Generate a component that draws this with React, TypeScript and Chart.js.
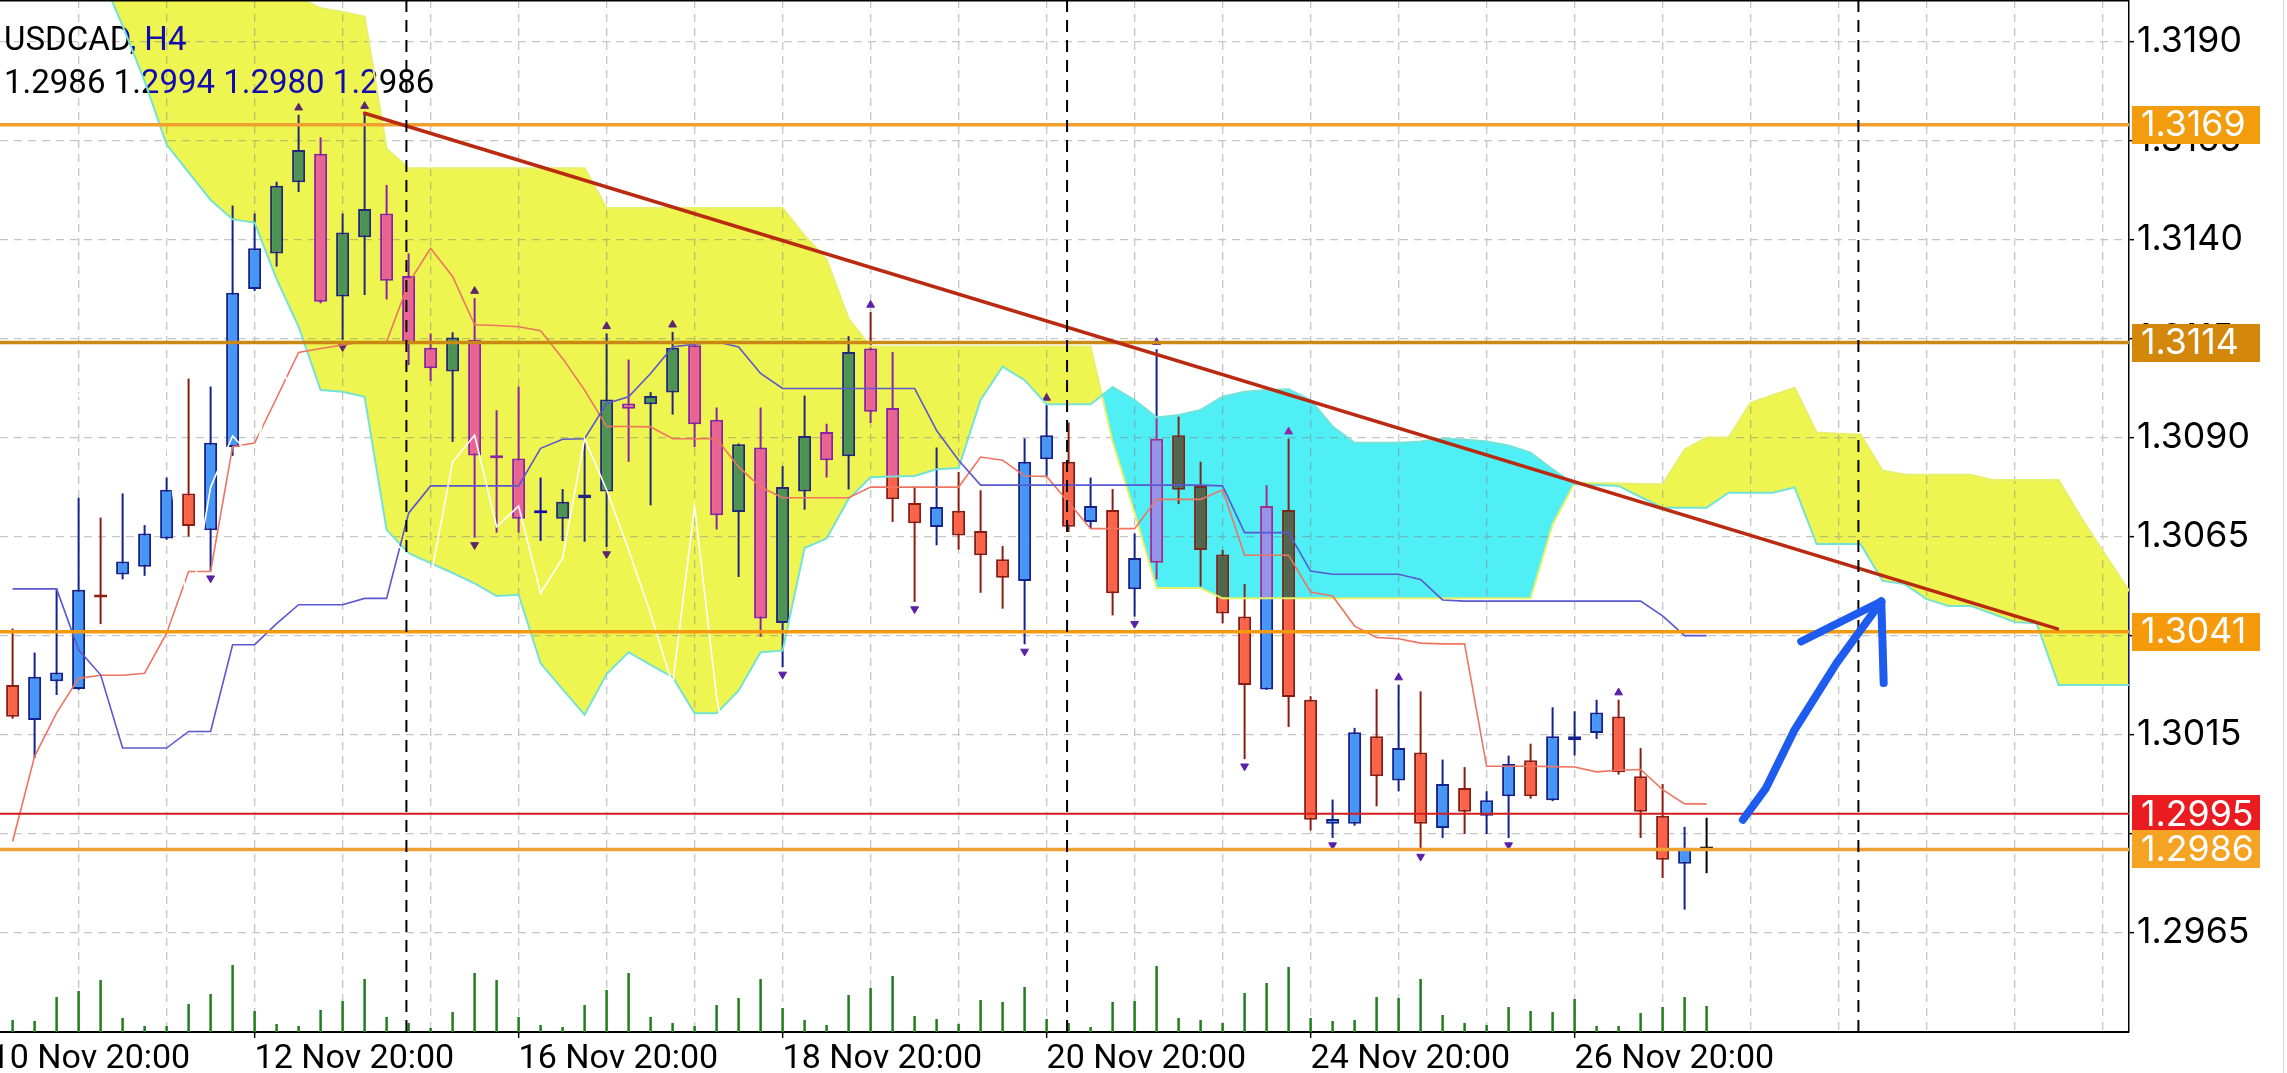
import React, { useEffect, useRef } from 'react';
import { Chart, registerables } from 'chart.js';

// ---------------- data ----------------
const SYMBOL_TITLE = 'USDCAD, H4';

const opens = [
  1.30275, 1.30187, 1.30285, 1.30265, 1.30504, 1.30554, 1.30574, 1.30645, 1.30759, 1.30666,
  1.30876, 1.31275, 1.31365, 1.31545, 1.31617, 1.31256, 1.31406, 1.31466, 1.31308, 1.31127,
  1.31067, 1.31147, 1.30855, 1.30847, 1.30709, 1.30695, 1.30747, 1.30764, 1.30986, 1.30984,
  1.31014, 1.31133, 1.30945, 1.30712, 1.30875, 1.30432, 1.30764, 1.30914, 1.30853, 1.31125,
  1.30975, 1.30735, 1.30674, 1.30715, 1.30664, 1.30593, 1.30538, 1.30845, 1.30839, 1.30687,
  1.30717, 1.30517, 1.30584, 1.30906, 1.30778, 1.30605, 1.30448, 1.30264, 1.30717, 1.30238,
  1.29925, 1.29925, 1.30146, 1.30034, 1.30105, 1.29914, 1.30015, 1.29945, 1.29994, 1.30085,
  1.29984, 1.30136, 1.30154, 1.30196, 1.30045, 1.29945, 1.29824, 1.29860,
];
const highs = [
  1.30418, 1.30357, 1.30517, 1.30748, 1.30698, 1.30759, 1.30679, 1.30799, 1.31049, 1.31029,
  1.31486, 1.31466, 1.31546, 1.31715, 1.31658, 1.31466, 1.31719, 1.31538, 1.31365, 1.31163,
  1.31166, 1.31252, 1.30969, 1.31029, 1.30799, 1.30770, 1.30900, 1.31163, 1.31097, 1.31015,
  1.31167, 1.31137, 1.30976, 1.30885, 1.30976, 1.30828, 1.31006, 1.30935, 1.31156, 1.31217,
  1.31116, 1.30777, 1.30875, 1.30813, 1.30767, 1.30626, 1.30898, 1.30982, 1.30938, 1.30799,
  1.30770, 1.30658, 1.31123, 1.30953, 1.30839, 1.30616, 1.30530, 1.30780, 1.30897, 1.30247,
  1.29986, 1.30167, 1.30265, 1.30276, 1.30259, 1.30087, 1.30068, 1.30007, 1.30097, 1.30127,
  1.30219, 1.30209, 1.30238, 1.30238, 1.30116, 1.30025, 1.29917, 1.29940,
];
const lows = [
  1.30190, 1.30091, 1.30250, 1.30263, 1.30429, 1.30542, 1.30551, 1.30642, 1.30650, 1.30563,
  1.30854, 1.31270, 1.31332, 1.31520, 1.31239, 1.31147, 1.31260, 1.31249, 1.31083, 1.31043,
  1.30889, 1.30647, 1.30660, 1.30660, 1.30639, 1.30639, 1.30637, 1.30624, 1.30839, 1.30729,
  1.30958, 1.30876, 1.30668, 1.30548, 1.30397, 1.30320, 1.30718, 1.30799, 1.30769, 1.30937,
  1.30687, 1.30485, 1.30628, 1.30617, 1.30508, 1.30468, 1.30378, 1.30803, 1.30662, 1.30670,
  1.30451, 1.30448, 1.30542, 1.30732, 1.30524, 1.30431, 1.30088, 1.30263, 1.30169, 1.29908,
  1.29889, 1.29920, 1.29969, 1.30007, 1.29860, 1.29889, 1.29899, 1.29899, 1.29889, 1.29988,
  1.29982, 1.30097, 1.30139, 1.30049, 1.29889, 1.29788, 1.29708, 1.29800,
];
const closes = [
  1.30195, 1.30296, 1.30307, 1.30516, 1.30496, 1.30587, 1.30658, 1.30768, 1.30677, 1.30887,
  1.31266, 1.31378, 1.31536, 1.31626, 1.31243, 1.31418, 1.31477, 1.31296, 1.31140, 1.31075,
  1.31153, 1.30855, 1.30848, 1.30695, 1.30709, 1.30738, 1.30756, 1.30996, 1.30973, 1.31005,
  1.31127, 1.30934, 1.30704, 1.30883, 1.30443, 1.30775, 1.30904, 1.30843, 1.31116, 1.30965,
  1.30744, 1.30684, 1.30725, 1.30653, 1.30603, 1.30546, 1.30839, 1.30906, 1.30675, 1.30727,
  1.30507, 1.30596, 1.30897, 1.30768, 1.30616, 1.30456, 1.30275, 1.30727, 1.30245, 1.29935,
  1.29937, 1.30156, 1.30045, 1.30116, 1.29925, 1.30025, 1.29955, 1.29984, 1.30076, 1.29994,
  1.30146, 1.30146, 1.30206, 1.30055, 1.29955, 1.29834, 1.29864, 1.29860,
];
const tickVolumes = [
  480, 440, 1400, 1640, 2080, 560, 240, 240, 1120, 1520,
  2680, 840, 320, 240, 880, 1240, 2120, 600, 360, 160,
  800, 2360, 2080, 600, 280, 200, 1080, 1680, 2360, 600,
  360, 240, 1080, 1360, 2120, 960, 480, 280, 1480, 1760,
  2240, 640, 520, 320, 1280, 1200, 1800, 520, 360, 200,
  1200, 1240, 2640, 560, 480, 360, 1560, 1960, 2600, 560,
  440, 480, 1400, 1360, 2120, 680, 360, 280, 1000, 840,
  800, 1320, 240, 240, 760, 1000, 1400, 1040,
];
const tenkanSen = [
  1.29880, 1.30095, 1.30205, 1.30292, 1.30300, 1.30300, 1.30305, 1.30406, 1.30562, 1.30562,
  1.30877, 1.30886, 1.31000, 1.31115, 1.31125, 1.31134, 1.31142, 1.31142, 1.31290, 1.31378,
  1.31307, 1.31185, 1.31183, 1.31180, 1.31170, 1.31100, 1.31020, 1.30928, 1.30928, 1.30927,
  1.30897, 1.30897, 1.30897, 1.30826, 1.30775, 1.30748, 1.30748, 1.30748, 1.30748, 1.30775,
  1.30775, 1.30775, 1.30775, 1.30775, 1.30851, 1.30843, 1.30803, 1.30802, 1.30736, 1.30670,
  1.30670, 1.30670, 1.30744, 1.30744, 1.30744, 1.30768, 1.30603, 1.30603, 1.30603, 1.30510,
  1.30500, 1.30424, 1.30395, 1.30392, 1.30381, 1.30379, 1.30379, 1.30070, 1.30070, 1.30070,
  1.30069, 1.30068, 1.30056, 1.30060, 1.30062, 1.30011, 1.29975, 1.29975,
];
const kijunSen = [
  1.30518, 1.30518, 1.30518, 1.30364, 1.30301, 1.30116, 1.30116, 1.30116, 1.30158, 1.30158,
  1.30377, 1.30377, 1.30430, 1.30478, 1.30478, 1.30478, 1.30494, 1.30494, 1.30709, 1.30778,
  1.30778, 1.30778, 1.30778, 1.30778, 1.30873, 1.30896, 1.30897, 1.30986, 1.31003, 1.31062,
  1.31129, 1.31136, 1.31142, 1.31129, 1.31062, 1.31024, 1.31024, 1.31024, 1.31024, 1.31024,
  1.31024, 1.31024, 1.30918, 1.30843, 1.30780, 1.30780, 1.30780, 1.30780, 1.30780, 1.30780,
  1.30780, 1.30780, 1.30780, 1.30780, 1.30780, 1.30778, 1.30660, 1.30660, 1.30660, 1.30563,
  1.30555, 1.30555, 1.30555, 1.30555, 1.30542, 1.30490, 1.30487, 1.30487, 1.30487, 1.30487,
  1.30487, 1.30487, 1.30487, 1.30487, 1.30487, 1.30450, 1.30400, 1.30400,
];
// cloud spans, bars 0..97 (26 bars projected beyond the last candle)
const senkouSpanA = [
  1.32150, 1.32150, 1.32150, 1.32150, 1.32150, 1.32150, 1.32150, 1.32150, 1.32150, 1.32150,
  1.32150, 1.32150, 1.32100, 1.32010, 1.31985, 1.31975, 1.31963, 1.31630, 1.31580, 1.31580,
  1.31580, 1.31580, 1.31580, 1.31580, 1.31580, 1.31580, 1.31580, 1.31480, 1.31480, 1.31480,
  1.31480, 1.31480, 1.31480, 1.31480, 1.31480, 1.31480, 1.31410, 1.31350, 1.31200, 1.31130,
  1.31130, 1.31130, 1.31130, 1.31130, 1.31130, 1.31130, 1.31130, 1.31130, 1.31130, 1.31130,
  1.30890, 1.30710, 1.30520, 1.30520, 1.30520, 1.30494, 1.30494, 1.30494, 1.30494, 1.30494,
  1.30494, 1.30494, 1.30494, 1.30494, 1.30494, 1.30494, 1.30494, 1.30494, 1.30494, 1.30494,
  1.30680, 1.30786, 1.30785, 1.30784, 1.30783, 1.30782, 1.30870, 1.30900, 1.30900, 1.30988,
  1.31007, 1.31026, 1.30913, 1.30910, 1.30908, 1.30816, 1.30807, 1.30806, 1.30806, 1.30806,
  1.30793, 1.30793, 1.30793, 1.30793, 1.30700, 1.30614, 1.30530, 1.30450,
];
const senkouSpanB = [
  1.32150, 1.32150, 1.32150, 1.32130, 1.32070, 1.31940, 1.31800, 1.31640, 1.31570, 1.31500,
  1.31451, 1.31443, 1.31300, 1.31180, 1.31020, 1.31016, 1.31003, 1.30667, 1.30608, 1.30583,
  1.30558, 1.30532, 1.30500, 1.30503, 1.30330, 1.30264, 1.30200, 1.30303, 1.30358, 1.30326,
  1.30295, 1.30204, 1.30204, 1.30261, 1.30358, 1.30362, 1.30621, 1.30645, 1.30745, 1.30800,
  1.30802, 1.30803, 1.30820, 1.30823, 1.30995, 1.31079, 1.31045, 1.30984, 1.30984, 1.30984,
  1.31028, 1.30995, 1.30951, 1.30957, 1.30970, 1.31003, 1.31016, 1.31020, 1.31022, 1.30995,
  1.30928, 1.30887, 1.30887, 1.30887, 1.30890, 1.30898, 1.30895, 1.30890, 1.30880, 1.30862,
  1.30820, 1.30782, 1.30780, 1.30778, 1.30750, 1.30723, 1.30723, 1.30723, 1.30761, 1.30761,
  1.30761, 1.30774, 1.30631, 1.30631, 1.30631, 1.30538, 1.30530, 1.30492, 1.30475, 1.30475,
  1.30455, 1.30434, 1.30431, 1.30275, 1.30275, 1.30275, 1.30275, 1.30275,
];
const CHIKOU_SHIFT = 26;
const upFractalBars = [13, 16, 21, 27, 30, 39, 47, 52, 58, 63, 73];
const downFractalBars = [9, 15, 21, 27, 35, 41, 46, 51, 56, 60, 64, 68];

const priceTicks = [1.2965, 1.2990, 1.3015, 1.3040, 1.3065, 1.3090, 1.3115, 1.3140, 1.3165, 1.3190];
const gridBars = [-1, 3, 7, 11, 15, 19, 23, 27, 31, 35, 39, 43, 47, 51, 55, 59, 63, 67, 71, 75, 79, 83, 87, 91, 95];
const labelBars = [-1, 11, 23, 35, 47, 59, 71];
const timeLabels = ['10 Nov 20:00', '12 Nov 20:00', '16 Nov 20:00', '18 Nov 20:00', '20 Nov 20:00', '24 Nov 20:00', '26 Nov 20:00'];

const levelPrices = [1.3169, 1.3114, 1.3041, 1.2995, 1.2986];
const levelLineColors = ['#efa02e', '#cc8814', '#f39a10', '#d31d1d', '#eea234'];
const levelLineWidths = [3.5, 3.5, 3.5, 2, 3.5];
const levelBoxColors = ['#f39c0e', '#d3870b', '#f49a0b', '#ea1c22', '#f4a322'];

const trendBars = [16, 92.95];
const trendPrices = [1.31719, 1.30417];
const separatorBars = [17.9, 47.93, 83.9];
const arrowShaftBars = [78.65, 79.7, 81.0, 82.9, 84.94];
const arrowShaftPrices = [1.29935, 1.30015, 1.30162, 1.3033, 1.30486];
const arrowLeftBars = [81.3, 84.94];
const arrowLeftPrices = [1.30385, 1.30486];
const arrowRightBars = [84.94, 85.05];
const arrowRightPrices = [1.30486, 1.3028];

// ---------------- layout / style constants ----------------
const W = 2287;
const H = 1073;
const X_MIN = -0.573;
const X_MAX = 96.2;
const Y_MIN = 1.29399;
const Y_MAX = 1.32005;
const VOLUME_AXIS_MAX = 41280;
const FRACTAL_GAP = 0.00018;
const AXIS_FAMILY = 'Inter';
const AXIS_LABEL_WIDTH = 105; // px width of a "1.3190" label on the price axis

const UP_FILL = '#4696f5';
const UP_EDGE = '#14228c';
const DOWN_FILL = '#f9634a';
const DOWN_EDGE = '#8c1c12';
const DOJI = '#000000';
// colours painted with 'exclusion' so that white shows yellow / cyan and candles change tint
const KUMO_UP = 'rgb(17,10,175)';
const KUMO_DOWN = 'rgb(175,17,10)';

function axisFontSize(): number {
  try {
    const c = document.createElement('canvas').getContext('2d');
    if (!c) return 30;
    c.font = `30px ${AXIS_FAMILY}`;
    const w = c.measureText('1.3190').width;
    if (!w) return 30;
    return Math.max(24, Math.min(36, (30 * AXIS_LABEL_WIDTH) / w));
  } catch (e) {
    return 30;
  }
}

const mt4Plugin = {
  id: 'mt4Look',
  beforeDraw(chart: any) {
    const { ctx, width, height } = chart;
    ctx.save();
    ctx.fillStyle = '#ffffff';
    ctx.fillRect(0, 0, width, height);
    ctx.restore();
  },
  beforeDatasetsDraw(chart: any) {
    const { ctx } = chart;
    const n = closes.length - 1;
    ctx.save();
    ctx.fillStyle = '#000000';
    ctx.font = '33px Roboto';
    ctx.textAlign = 'left';
    ctx.textBaseline = 'alphabetic';
    ctx.fillText(SYMBOL_TITLE, 4, 50);
    const ohlc = [opens[n], highs[n], lows[n], closes[n]].map((v) => v.toFixed(4)).join(' ');
    ctx.fillText(ohlc, 4, 93);
    ctx.restore();
  },
  beforeDatasetDraw(chart: any, args: any) {
    if (chart.data.datasets[args.index].label === 'Kumo') {
      chart.ctx.save();
      chart.ctx.globalCompositeOperation = 'exclusion';
    }
  },
  afterDatasetDraw(chart: any, args: any) {
    if (chart.data.datasets[args.index].label === 'Kumo') {
      chart.ctx.restore();
    }
  },
  afterDraw(chart: any) {
    const { ctx, chartArea, scales } = chart;
    ctx.save();
    ctx.strokeStyle = '#000000';
    ctx.lineWidth = 1.5;
    ctx.beginPath();
    ctx.moveTo(0, 0.75);
    ctx.lineTo(chartArea.right, 0.75);
    ctx.stroke();
    ctx.strokeStyle = '#d4d4d4';
    ctx.lineWidth = 1;
    ctx.beginPath();
    ctx.moveTo(chart.width - 3.5, 0);
    ctx.lineTo(chart.width - 3.5, chart.height);
    ctx.stroke();
    const yScale = scales.y;
    const size = yScale.options.ticks.font.size || 30;
    ctx.font = `${size}px ${AXIS_FAMILY}`;
    ctx.textAlign = 'left';
    ctx.textBaseline = 'middle';
    levelPrices.forEach((p, k) => {
      const y = yScale.getPixelForValue(p);
      ctx.fillStyle = levelBoxColors[k];
      ctx.fillRect(chartArea.right + 3, Math.round(y - 19), 128, 38);
      ctx.fillStyle = '#ffffff';
      ctx.fillText(p.toFixed(4), chartArea.right + 12, y + 1);
    });
    ctx.restore();
  },
};

Chart.register(mt4Plugin as any);
Chart.register(...registerables);

function buildConfig(): any {
  const bars = closes.map((_, i) => i);
  const isUp = bars.map((i) => closes[i] > opens[i]);
  const isDoji = bars.map((i) => closes[i] === opens[i]);
  const wickColors = bars.map((i) => (isDoji[i] ? DOJI : isUp[i] ? UP_EDGE : DOWN_EDGE));
  const bodyFill = bars.map((i) => (isDoji[i] ? DOJI : isUp[i] ? UP_FILL : DOWN_FILL));
  const bodyEdge = bars.map((i) => (isDoji[i] ? DOJI : isUp[i] ? UP_EDGE : DOWN_EDGE));

  const cloudA = senkouSpanA.map((v, i) => ({ x: i, y: v }));
  const cloudB = senkouSpanB.map((v, i) => ({ x: i, y: v }));
  const chikou = closes.slice(CHIKOU_SHIFT).map((v, i) => ({ x: i, y: v }));
  const priceFontSize = axisFontSize();

  const line = (label: string, data: any[], color: string, width: number, order: number, extra: any = {}) => ({
    type: 'line',
    label,
    data,
    borderColor: color,
    backgroundColor: color,
    borderWidth: width,
    pointRadius: 0,
    tension: 0,
    fill: false,
    order,
    ...extra,
  });

  const datasets: any[] = [
    {
      type: 'bar',
      label: 'Volume',
      yAxisID: 'y2',
      data: bars.map((i) => ({ x: i, y: tickVolumes[i] })),
      backgroundColor: '#1f7d1f',
      barThickness: 2.5,
      grouped: false,
      inflateAmount: 0,
      order: 100,
    },
    {
      type: 'bar',
      label: 'Wicks',
      data: bars.map((i) => ({ x: i, y: [lows[i], highs[i]] })),
      backgroundColor: wickColors,
      barThickness: 2,
      grouped: false,
      inflateAmount: 0,
      order: 90,
    },
    {
      type: 'bar',
      label: 'Bodies',
      data: bars.map((i) => ({ x: i, y: [opens[i], closes[i]] })),
      backgroundColor: bodyFill,
      borderColor: bodyEdge,
      borderWidth: 2,
      borderSkipped: false,
      minBarLength: 3,
      barThickness: 13,
      grouped: false,
      inflateAmount: 0,
      order: 80,
    },
    line('Fractals up', upFractalBars.map((b) => ({ x: b, y: highs[b] + FRACTAL_GAP })), '#5b1fa8', 0, 75, {
      showLine: false,
      pointRadius: 4.5,
      pointStyle: 'triangle',
      pointBackgroundColor: '#5b1fa8',
      pointBorderColor: '#5b1fa8',
      pointBorderWidth: 1,
    }),
    line('Fractals down', downFractalBars.map((b) => ({ x: b, y: lows[b] - FRACTAL_GAP })), '#5b1fa8', 0, 75, {
      showLine: false,
      pointRadius: 4.5,
      pointStyle: 'triangle',
      pointRotation: 180,
      pointBackgroundColor: '#5b1fa8',
      pointBorderColor: '#5b1fa8',
      pointBorderWidth: 1,
    }),
    line('Kumo', cloudA, 'rgba(0,0,0,0)', 0, 60, {
      fill: { target: 6, above: KUMO_UP, below: KUMO_DOWN },
    }),
    line('Senkou Span B', cloudB, '#74e2d6', 2, 50),
    line('Senkou Span A', cloudA, '#e6f06a', 2, 50),
    line('Chikou Span', chikou, '#ffffff', 1.6, 40),
    line('Kijun-sen', kijunSen.map((v, i) => ({ x: i, y: v })), '#5a58cf', 1.6, 40),
    line('Tenkan-sen', tenkanSen.map((v, i) => ({ x: i, y: v })), '#ee7462', 1.6, 40),
  ];
  levelPrices.forEach((p, k) => {
    datasets.push(line('Level ' + p.toFixed(4), [{ x: X_MIN, y: p }, { x: X_MAX, y: p }], levelLineColors[k], levelLineWidths[k], 30));
  });
  datasets.push(
    line('Trend', trendBars.map((b, k) => ({ x: b, y: trendPrices[k] })), '#b92a10', 3.5, 20, { borderCapStyle: 'round' })
  );
  separatorBars.forEach((b) => {
    datasets.push(line('Separator', [{ x: b, y: Y_MIN }, { x: b, y: Y_MAX }], '#000000', 2, 15, { borderDash: [12, 8] }));
  });
  const arrowOpts = { borderCapStyle: 'round', borderJoinStyle: 'round' };
  datasets.push(line('Arrow', arrowShaftBars.map((b, k) => ({ x: b, y: arrowShaftPrices[k] })), '#1e5cf0', 8, 10, arrowOpts));
  datasets.push(line('Arrow L', arrowLeftBars.map((b, k) => ({ x: b, y: arrowLeftPrices[k] })), '#1e5cf0', 8, 10, arrowOpts));
  datasets.push(line('Arrow R', arrowRightBars.map((b, k) => ({ x: b, y: arrowRightPrices[k] })), '#1e5cf0', 8, 10, arrowOpts));

  return {
    type: 'line',
    data: { datasets },
    options: {
      animation: false,
      responsive: false,
      devicePixelRatio: 1,
      events: [],
      layout: { padding: 0, autoPadding: false },
      plugins: { legend: { display: false }, tooltip: { enabled: false }, title: { display: false } },
      scales: {
        x: {
          type: 'linear',
          position: 'bottom',
          min: X_MIN,
          max: X_MAX,
          offset: false,
          afterBuildTicks: (axis: any) => {
            axis.ticks = gridBars.map((v) => ({ value: v }));
          },
          afterFit: (axis: any) => {
            axis.height = 41;
            axis.paddingLeft = 0;
            axis.paddingRight = 0;
          },
          ticks: {
            autoSkip: false,
            maxRotation: 0,
            minRotation: 0,
            align: 'start',
            padding: 1,
            color: '#000000',
            font: { family: 'Roboto', size: 34 },
            callback: (v: any) => {
              const k = labelBars.indexOf(Number(v));
              return k >= 0 ? timeLabels[k] : '';
            },
          },
          grid: {
            offset: false,
            color: '#c6c6c6',
            lineWidth: 1.3,
            tickLength: 6,
            tickWidth: 1.5,
            tickColor: (c: any) => (c.tick && labelBars.includes(c.tick.value) ? '#000000' : 'rgba(0,0,0,0)'),
          },
          border: { display: true, color: '#000000', width: 2, dash: [8, 6] },
        },
        y: {
          type: 'linear',
          position: 'right',
          min: Y_MIN,
          max: Y_MAX,
          afterBuildTicks: (axis: any) => {
            axis.ticks = priceTicks.map((v) => ({ value: v }));
          },
          afterFit: (axis: any) => {
            axis.width = 158;
            axis.paddingTop = 0;
            axis.paddingBottom = 0;
          },
          ticks: {
            color: '#000000',
            padding: 3,
            font: { family: AXIS_FAMILY, size: priceFontSize },
            callback: (v: any) => Number(v).toFixed(4),
          },
          grid: { color: '#c6c6c6', lineWidth: 1.3, tickLength: 5, tickWidth: 1.5, tickColor: '#000000' },
          border: { display: true, color: '#000000', width: 1.5, dash: [8, 6] },
        },
        y2: { type: 'linear', display: false, min: 0, max: VOLUME_AXIS_MAX },
      },
    },
  };
}

export default function App() {
  const canvasRef = useRef<HTMLCanvasElement | null>(null);
  useEffect(() => {
    document.body.style.margin = '0';
    const canvas = canvasRef.current;
    if (!canvas) return;
    const chart = new Chart(canvas, buildConfig());
    return () => chart.destroy();
  }, []);
  return (
    <div style={{ width: W, height: H, position: 'relative', overflow: 'hidden', background: '#fff' }}>
      <canvas ref={canvasRef} width={W} height={H} style={{ display: 'block', width: W, height: H }} />
    </div>
  );
}
